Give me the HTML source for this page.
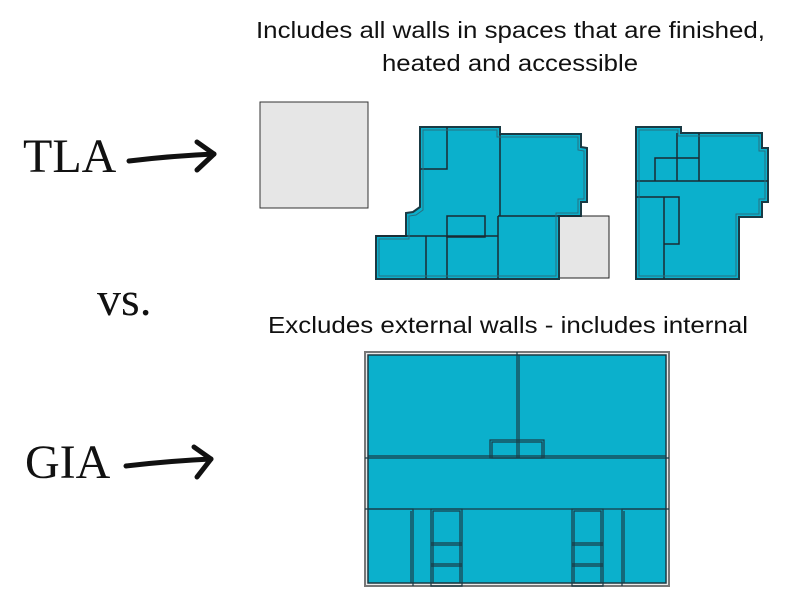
<!DOCTYPE html>
<html><head><style>body{margin:0;background:#fff}svg{display:block}</style></head>
<body>
<svg width="800" height="600" viewBox="0 0 800 600" xmlns="http://www.w3.org/2000/svg">
<rect width="800" height="600" fill="#fff"/>
<g font-family="Liberation Sans, sans-serif" font-size="23" fill="#111">
<text x="256" y="38" textLength="509" lengthAdjust="spacingAndGlyphs">Includes all walls in spaces that are finished,</text>
<text x="382" y="71" textLength="256" lengthAdjust="spacingAndGlyphs">heated and accessible</text>
<text x="268" y="333" textLength="480" lengthAdjust="spacingAndGlyphs">Excludes external walls - includes internal</text>
</g>
<g font-family="Liberation Serif, serif" font-size="48" fill="#111">
<text x="23" y="172">TLA</text>
<text x="97" y="315">vs.</text>
<text x="25" y="478">GIA</text>
</g>
<g stroke="#111" stroke-width="5" fill="none" stroke-linecap="round" stroke-linejoin="round">
<path d="M129 161 Q170 156 214 154"/><path d="M197 142 L214 154 L197 170"/>
<path d="M126 466 Q168 461 211 459"/><path d="M194 447 L211 459 L197 477"/>
</g>
<rect x="260" y="102" width="108" height="106" fill="#e6e6e6" stroke="#333" stroke-width="1"/>
<rect x="559" y="216" width="50" height="62" fill="#e6e6e6" stroke="#222" stroke-width="1"/>
<polygon points="420,127 500,127 500,134 581,134 581,147 587,148 587,202 581,202 581,216 559,216 559,279 376,279 376,236 406,236 406,213 413,212 420,207" fill="#0bb0cc" stroke="#1a3a44" stroke-width="2"/>
<g stroke="#1a2a33" stroke-width="1.5" fill="none">
<path d="M420 169 H447 V127"/>
<path d="M500 134 V216"/><path d="M498 216 V279"/><path d="M498 216 H581"/>
<rect x="447" y="216" width="38" height="21"/>
<path d="M376 236 H498"/><path d="M426 236 V279"/><path d="M447 236 V279"/>
<polygon points="423,130 497,130 497,137 578,137 578,150 584,151 584,199 578,199 578,213 556,213 556,276 379,276 379,239 409,239 409,216 416,215 423,210" stroke="#2a6f80" stroke-width="1"/>
</g>
<polygon points="636,127 681,127 681,133 762,133 762,148 768,148 768,202 762,202 762,217 739,217 739,279 636,279" fill="#0bb0cc" stroke="#1a3a44" stroke-width="2"/>
<g stroke="#1a2a33" stroke-width="1.5" fill="none">
<path d="M636 181 H768"/><path d="M677 133 V181"/><path d="M699 133 V181"/>
<path d="M655 181 V158 H699"/>
<path d="M636 197 H679 V244 H664"/><path d="M664 197 V279"/>
<polygon points="639,130 678,130 678,136 759,136 759,151 765,151 765,199 759,199 759,214 736,214 736,276 639,276" stroke="#2a6f80" stroke-width="1"/>
</g>
<rect x="365" y="352" width="304" height="234" fill="#eaeaea" stroke="#777" stroke-width="2"/>
<rect x="368" y="355" width="298" height="228" fill="#0bb0cc" stroke="#1a3a44" stroke-width="1.5"/>
<g stroke="#1a3a44" stroke-width="1.2" fill="none">
<path d="M517 352 V458"/><path d="M519 355 V458"/>
<path d="M365 458 H669"/><path d="M368 456 H666"/>
<rect x="490" y="440" width="54" height="18"/><rect x="492" y="442" width="50" height="16"/>
<path d="M365 509 H669"/>
<path d="M368 509 H413 V586"/><path d="M411 511 V583"/>
<rect x="431" y="509" width="31" height="77"/><rect x="433" y="511" width="27" height="72"/>
<path d="M431 543 H462 M431 545 H462 M431 564 H462 M431 566 H462"/>
<rect x="572" y="509" width="31" height="77"/><rect x="574" y="511" width="27" height="72"/>
<path d="M572 543 H603 M572 545 H603 M572 564 H603 M572 566 H603"/>
<path d="M666 509 H622 V586"/><path d="M624 511 V583"/>
</g>
</svg>
</body></html>
